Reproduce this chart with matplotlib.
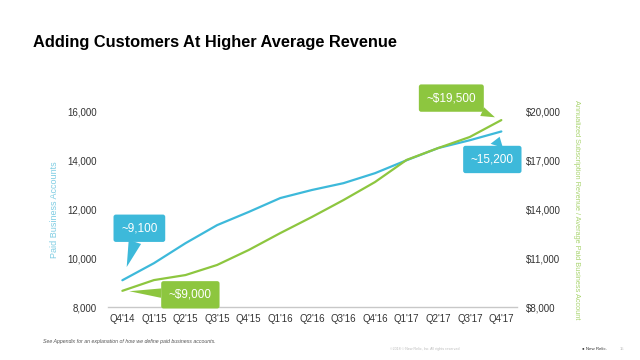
import numpy as np
import matplotlib.pyplot as plt

plt.rcParams['font.family'] = ['Liberation Sans', 'DejaVu Sans']

# data
quarters = ["Q4'14", "Q1'15", "Q2'15", "Q3'15", "Q4'15", "Q1'16", "Q2'16",
            "Q3'16", "Q4'16", "Q1'17", "Q2'17", "Q3'17", "Q4'17"]
accounts = [9100, 9800, 10620, 11360, 11900, 12470, 12800,
            13080, 13490, 14020, 14520, 14840, 15200]
revenue = [9000, 9660, 9970, 10590, 11510, 12550, 13540,
           14580, 15690, 17050, 17780, 18460, 19500]
left_ticks = [8000, 10000, 12000, 14000, 16000]
right_ticks = [8000, 11000, 14000, 17000, 20000]

blue = '#3DB9DA'
green = '#8DC63F'
x = np.arange(len(quarters))

fig = plt.figure(figsize=(6.4, 3.6), dpi=100)
ax = fig.add_axes([0.169, 0.147, 0.639, 0.542])
ax2 = ax.twinx()

ax.plot(x, accounts, color=blue, lw=1.6, solid_capstyle='round', zorder=3)
ax2.plot(x, revenue, color=green, lw=1.6, solid_capstyle='round', zorder=3)

ax.set_xlim(-0.45, 12.5)
ax.set_ylim(8000, 16000)
ax2.set_ylim(8000, 20000)
ax.set_xticks(x)
ax.set_xticklabels(quarters)
ax.set_yticks(left_ticks)
ax.set_yticklabels(['{:,}'.format(v) for v in left_ticks])
ax2.set_yticks(right_ticks)
ax2.set_yticklabels(['${:,}'.format(v) for v in right_ticks])

for a in (ax, ax2):
    for s in a.spines.values():
        s.set_visible(False)
    a.tick_params(length=0, labelsize=7, labelcolor='#333333')
ax.spines['bottom'].set_visible(True)
ax.spines['bottom'].set_color('#c8c8c8')
ax.spines['bottom'].set_linewidth(1)
ax.tick_params(axis='x', pad=5)
ax.tick_params(axis='y', pad=8)
ax2.tick_params(axis='y', pad=6.5)

ax.set_ylabel('Paid Business Accounts', color='#7fcde3', fontsize=6.5, labelpad=6)
ax2.set_ylabel('Annualized Subscription Revenue / Average Paid Business Account',
               color='#a9d46f', fontsize=5.3, rotation=270, labelpad=14)

# callouts: box with a wedge tapering to the line end
def callout(a, xi, yi, txt, col, dx, dy, shrink, tw):
    a.annotate(txt, xy=(xi, yi), xytext=(dx, dy), textcoords='offset pixels',
               ha='center', va='center', color='white', fontsize=8.5,
               bbox=dict(boxstyle='round,pad=0.65,rounding_size=0.2', fc=col, ec='none'),
               arrowprops=dict(arrowstyle='wedge,tail_width=%s,shrink_factor=0.5' % tw,
                               fc=col, ec='none', shrinkA=0, shrinkB=shrink),
               annotation_clip=False, zorder=6)

callout(ax, x[0], accounts[0], '~9,100', blue, 17, 52, 10, 1.1)
callout(ax2, x[0], revenue[0], '~$9,000', green, 68, -4, 5, 0.8)
callout(ax2, x[-1], revenue[-1], '~$19,500', green, -50, 22, 5, 0.8)
callout(ax, x[-1], accounts[-1], '~15,200', blue, -9, -28, 4, 1.1)

fig.text(33/640, 1 - 42/360, 'Adding Customers At Higher Average Revenue',
         fontsize=11.8, fontweight='bold', va='center', ha='left')
fig.text(43/640, 1 - 342/360,
         'See Appendix for an explanation of how we define paid business accounts.',
         fontsize=3.8, style='italic', color='#555555', va='center')
fig.text(390/640, 1 - 349/360, '\u00a92018 \u00a9 New Relic, Inc. All rights reserved',
         fontsize=2.6, color='#bbbbbb', va='center')
fig.text(582/640, 1 - 349/360, '\u25cf New Relic.', fontsize=3.2, color='#333333',
         va='center')
fig.text(620/640, 1 - 349/360, '15', fontsize=3, color='#bbbbbb', va='center')

fig.savefig('out.png', dpi=100)
